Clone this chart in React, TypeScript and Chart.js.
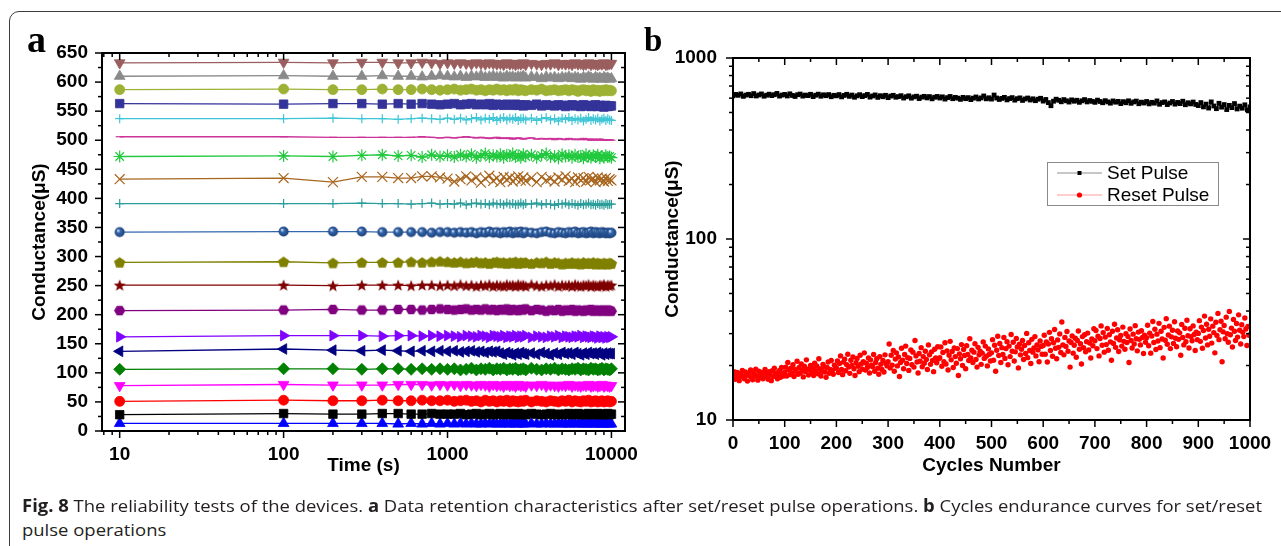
import React, { useEffect, useLayoutEffect, useRef } from "react";
import { Chart, registerables } from "chart.js";

Chart.register(...registerables);

const FONT = "'Liberation Sans', Arial, Helvetica, sans-serif";

// ---------------- Panel a : data retention ----------------
const retentionTimes = [
  10, 100, 200, 300, 400, 500, 600, 700, 800, 900, 1000,
  1100, 1200, 1300, 1400, 1500, 1600, 1700, 1800, 1900, 2000, 2100, 2200, 2300, 2400, 2500, 2600, 2700, 2800, 2900, 3000,
  3250, 3500, 3750, 4000, 4250, 4500, 4750, 5000, 5250, 5500, 5750, 6000, 6250, 6500, 6750, 7000, 7250, 7500, 7750, 8000, 8250, 8500, 8750, 9000, 9250, 9500, 9750, 10000,
];

const g633 = [633, 634, 633, 634, 634, 633, 633, 634, 633, 632, 633,
  632, 633, 632, 631, 633, 632, 631, 633, 632, 631, 632, 630, 633, 631, 632, 630, 632, 631, 633, 630,
  632, 631, 630, 632, 631, 633, 630, 632, 631, 632, 630, 633, 631, 632, 630, 631, 633, 630, 632, 631, 630, 632, 631, 633, 630, 631, 632, 632];
const g610 = [610, 611, 610, 610, 611, 610, 610, 609, 610, 611, 610,
  609, 610, 608, 610, 609, 611, 608, 609, 610, 608, 609, 607, 610, 608, 609, 607, 609, 608, 610, 607,
  609, 608, 606, 609, 607, 608, 606, 608, 607, 609, 606, 608, 607, 605, 608, 606, 609, 607, 605, 608, 606, 607, 605, 608, 606, 607, 605, 606];
const g587 = [587, 588, 587, 587, 588, 587, 587, 588, 587, 586, 587,
  588, 586, 587, 588, 586, 587, 585, 587, 586, 588, 586, 587, 585, 587, 586, 588, 585, 587, 586, 585,
  587, 586, 588, 585, 586, 587, 585, 586, 587, 585, 587, 586, 584, 586, 587, 585, 586, 584, 587, 585, 586, 584, 586, 585, 587, 585, 586, 585];
const g563 = [563, 562, 563, 563, 562, 563, 562, 563, 562, 561, 562,
  563, 561, 562, 563, 561, 562, 561, 563, 560, 562, 561, 560, 562, 561, 560, 562, 560, 561, 559, 561,
  560, 562, 559, 561, 560, 559, 561, 560, 558, 560, 561, 559, 560, 558, 561, 559, 560, 558, 559, 561, 558, 560, 559, 557, 560, 558, 559, 559];
const g537 = [537, 537, 538, 537, 537, 536, 537, 538, 537, 536, 538,
  536, 538, 535, 537, 539, 535, 538, 536, 539, 534, 537, 539, 535, 538, 536, 539, 534, 537, 538, 535,
  538, 534, 537, 539, 535, 537, 533, 538, 536, 539, 534, 537, 535, 538, 533, 536, 539, 534, 537, 535, 538, 533, 536, 538, 534, 537, 535, 534];
const g505 = [506, 506, 505, 505, 505, 505, 505, 506, 505, 504, 505,
  504, 505, 506, 505, 504, 505, 504, 503, 504, 505, 503, 504, 503, 504, 502, 503, 504, 503, 502, 503,
  504, 502, 503, 502, 503, 501, 503, 502, 501, 503, 502, 501, 502, 501, 503, 501, 502, 500, 502, 501, 500, 502, 501, 500, 501, 500, 501, 500];
const g472 = [472, 473, 472, 474, 475, 473, 474, 471, 475, 472, 474,
  471, 475, 472, 476, 470, 474, 477, 471, 474, 472, 476, 470, 475, 473, 477, 471, 474, 470, 476, 472,
  475, 470, 474, 477, 471, 473, 469, 476, 472, 474, 470, 475, 471, 473, 469, 476, 472, 470, 474, 471, 475, 469, 473, 470, 474, 471, 472, 470];
const g432 = [433, 435, 428, 437, 437, 435, 435, 438, 438, 436, 434,
  429, 433, 438, 431, 436, 427, 434, 439, 430, 435, 428, 437, 432, 436, 429, 434, 438, 431, 436, 430,
  435, 428, 437, 431, 434, 429, 436, 432, 438, 430, 434, 428, 436, 431, 435, 429, 437, 432, 434, 428, 436, 431, 434, 429, 435, 430, 433, 431];
const g390 = [391, 391, 391, 392, 391, 391, 390, 391, 392, 390, 391,
  390, 392, 389, 391, 392, 390, 391, 389, 392, 390, 391, 389, 392, 390, 391, 389, 390, 392, 389, 391,
  390, 392, 389, 391, 390, 388, 391, 390, 392, 389, 391, 390, 388, 391, 389, 390, 392, 389, 390, 388, 391, 389, 390, 388, 391, 389, 390, 390];
const g342 = [342, 343, 343, 343, 342, 342, 342, 342, 341, 342, 342,
  341, 342, 341, 342, 340, 342, 341, 343, 341, 342, 340, 342, 341, 343, 340, 342, 341, 343, 340, 342,
  341, 340, 342, 343, 341, 340, 342, 341, 340, 342, 341, 343, 340, 341, 342, 340, 341, 343, 340, 342, 341, 340, 342, 341, 340, 341, 340, 341];
const g290 = [290, 291, 289, 290, 290, 290, 291, 290, 291, 292, 291,
  290, 291, 289, 290, 291, 289, 290, 288, 290, 291, 289, 290, 288, 290, 289, 291, 288, 290, 289, 290,
  288, 290, 289, 291, 288, 290, 289, 287, 289, 288, 290, 288, 289, 287, 290, 288, 289, 288, 290, 287, 289, 288, 287, 289, 288, 287, 289, 288];
const g251 = [251, 251, 250, 251, 251, 251, 250, 251, 251, 250, 251,
  250, 252, 250, 251, 249, 251, 250, 252, 249, 251, 250, 249, 252, 250, 251, 249, 252, 250, 251, 249,
  252, 250, 249, 251, 250, 252, 249, 251, 250, 251, 249, 252, 250, 249, 251, 250, 252, 249, 251, 250, 249, 251, 250, 252, 249, 251, 250, 251];
const g207 = [207, 208, 209, 208, 208, 209, 209, 208, 209, 210, 209,
  208, 209, 210, 208, 209, 208, 210, 208, 209, 207, 209, 208, 210, 207, 209, 208, 207, 209, 208, 210,
  207, 209, 208, 206, 208, 207, 209, 206, 208, 207, 209, 206, 208, 207, 206, 208, 207, 209, 206, 208, 207, 206, 208, 207, 206, 208, 207, 206];
const g162 = [162, 164, 164, 164, 163, 164, 164, 163, 164, 163, 164,
  163, 162, 164, 163, 162, 164, 163, 161, 164, 163, 162, 164, 161, 163, 162, 164, 161, 163, 162, 164,
  161, 163, 162, 161, 163, 162, 164, 161, 163, 162, 161, 163, 162, 164, 161, 163, 162, 161, 163, 162, 160, 163, 161, 162, 160, 162, 161, 162];
const g137 = [137, 141, 139, 138, 139, 138, 137, 138, 137, 138, 137,
  138, 136, 137, 138, 136, 137, 135, 137, 136, 137, 134, 132, 135, 133, 131, 134, 132, 135, 133, 132,
  134, 132, 135, 133, 131, 134, 132, 135, 133, 134, 132, 135, 133, 131, 134, 132, 135, 133, 134, 132, 135, 133, 131, 134, 132, 134, 133, 133];
const g106 = [106, 107, 107, 106, 107, 107, 106, 107, 106, 107, 106,
  107, 105, 106, 108, 105, 107, 106, 108, 105, 107, 106, 108, 105, 107, 106, 108, 105, 106, 107, 105,
  108, 106, 105, 107, 106, 108, 105, 107, 106, 105, 107, 106, 108, 105, 107, 106, 105, 108, 106, 107, 105, 106, 108, 105, 107, 106, 105, 107];
const g78 = [78, 80, 79, 79, 79, 80, 80, 80, 79, 80, 79,
  80, 78, 80, 79, 78, 80, 79, 77, 80, 78, 79, 77, 80, 78, 79, 77, 80, 78, 79, 77,
  79, 78, 80, 77, 79, 78, 77, 79, 78, 80, 77, 79, 78, 77, 79, 78, 80, 77, 78, 79, 77, 78, 80, 77, 79, 78, 77, 78];
const g51 = [51, 53, 52, 52, 53, 52, 52, 53, 52, 52, 53,
  51, 52, 53, 51, 52, 50, 53, 51, 52, 50, 52, 51, 53, 50, 52, 51, 50, 52, 51, 53,
  50, 52, 51, 50, 52, 51, 50, 52, 51, 53, 50, 52, 51, 50, 52, 51, 53, 50, 51, 52, 50, 51, 52, 50, 51, 52, 50, 51];
const g28 = [28, 30, 29, 29, 30, 30, 29, 29, 30, 29, 29,
  29, 30, 28, 29, 30, 28, 29, 30, 28, 29, 30, 28, 29, 30, 28, 29, 30, 28, 29, 28,
  30, 29, 28, 29, 30, 28, 29, 28, 29, 30, 28, 29, 30, 28, 29, 28, 30, 29, 28, 29, 30, 28, 29, 28, 29, 30, 28, 29];
const g13 = [13, 13, 13, 13, 13, 12, 13, 12, 13, 12, 13,
  12, 13, 12, 13, 12, 12, 13, 12, 13, 12, 12, 13, 12, 12, 13, 12, 12, 13, 12, 12,
  13, 12, 12, 13, 12, 12, 13, 12, 12, 12, 13, 12, 12, 13, 12, 12, 12, 13, 12, 12, 13, 12, 12, 12, 13, 12, 12, 12];

const retentionXTicks = [10, 100, 1000, 10000];
const retentionXMinor = [8, 9, 20, 30, 40, 50, 60, 70, 80, 90, 200, 300, 400, 500, 600, 700, 800, 900, 2000, 3000, 4000, 5000, 6000, 7000, 8000, 9000];
const retentionYTicks = [0, 50, 100, 150, 200, 250, 300, 350, 400, 450, 500, 550, 600, 650];
const retentionYMinor = [25, 75, 125, 175, 225, 275, 325, 375, 425, 475, 525, 575, 625];

// ---------------- Panel b : cycle endurance ----------------
const steps = (start: number, step: number, count: number) => Array.from({ length: count }, (_, i) => start + i * step);
const setCycles = steps(0, 5, 201);
const resetCycles = steps(0, 2, 500);

const setPulse = [
  618, 629, 622, 633, 614, 624, 630, 619, 636, 617, 625, 633, 615, 623, 631, 620, 627, 637, 616, 624,
  629, 617, 634, 621, 613, 627, 632, 616, 624, 620, 630, 612, 623, 631, 615, 626, 619, 628, 611, 622,
  618, 628, 610, 621, 630, 614, 624, 607, 618, 627, 612, 620, 629, 608, 617, 625, 606, 619, 611, 622,
  604, 616, 622, 607, 612, 619, 601, 611, 618, 600, 610, 615, 597, 608, 614, 602, 612, 595, 607, 613,
  601, 610, 593, 604, 613, 596, 606, 600, 591, 606, 596, 604, 589, 600, 609, 594, 602, 617, 595, 603,
  593, 624, 601, 590, 598, 606, 587, 597, 604, 585, 596, 602, 583, 594, 601, 586, 595, 581, 592, 599,
  578, 590, 567, 545, 577, 592, 584, 573, 589, 580, 571, 587, 577, 584, 569, 580, 589, 572, 582, 576,
  569, 585, 575, 566, 581, 572, 563, 579, 570, 576, 560, 574, 566, 580, 562, 572, 578, 559, 570, 564,
  575, 558, 569, 563, 579, 555, 567, 572, 553, 564, 575, 556, 568, 560, 577, 552, 566, 558, 571, 554,
  546, 567, 537, 556, 529, 572, 543, 525, 562, 535, 553, 519, 547, 532, 560, 523, 542, 528, 551, 517, 537,
];

const resetPulse = [
  17.2, 18.5, 16.8, 17.9, 18.3, 17.0, 16.5, 18.1, 17.6, 18.8, 17.3, 16.9, 18.4, 17.7, 16.4, 18.0, 17.5, 18.9, 17.1, 16.7, 18.2, 17.8, 19.1, 17.4, 16.6,
  18.6, 17.9, 17.2, 18.3, 16.9, 17.6, 19.0, 18.1, 17.3, 16.8, 18.5, 17.7, 16.5, 18.7, 17.4, 19.3, 17.9, 18.2, 16.9, 17.6, 18.8, 17.2, 19.5, 18.0, 17.5,
  18.4, 19.6, 17.5, 20.8, 18.9, 17.8, 19.3, 18.1, 20.2, 17.4, 19.0, 18.6, 21.1, 17.9, 19.5, 18.2, 20.4, 18.8, 17.3, 19.8, 18.5, 21.5, 19.1, 17.7, 18.9,
  20.0, 18.3, 19.4, 17.6, 20.6, 18.7, 19.9, 18.0, 21.8, 19.2, 17.5, 18.6, 20.3, 19.7, 18.4, 17.2, 19.5, 20.9, 18.1, 19.0, 21.3, 18.8, 17.9, 20.1, 19.3,
  19.4, 21.2, 18.3, 20.5, 22.6, 19.0, 17.8, 20.9, 21.7, 18.7, 20.2, 23.1, 19.6, 18.1, 21.4, 20.0, 22.3, 19.2, 17.6, 20.7, 21.9, 19.8, 18.5, 22.8, 20.4,
  19.1, 21.0, 23.5, 18.9, 20.6, 19.5, 22.0, 18.2, 21.5, 20.1, 19.7, 23.0, 18.6, 20.8, 21.8, 19.3, 17.9, 22.4, 20.3, 19.0, 21.3, 18.4, 22.9, 20.5, 19.9,
  21.0, 26.3, 19.4, 22.8, 20.1, 24.2, 18.6, 21.7, 23.5, 19.9, 22.3, 17.4, 20.8, 24.9, 21.4, 19.2, 23.0, 25.6, 20.5, 22.1, 18.8, 21.9, 24.4, 20.2, 23.7,
  19.6, 27.5, 22.6, 20.9, 18.2, 23.3, 21.1, 25.1, 19.7, 22.4, 20.6, 24.0, 21.6, 19.0, 26.0, 22.9, 20.3, 23.8, 21.3, 18.5, 24.6, 22.0, 20.7, 25.4, 21.8,
  22.1, 25.3, 19.8, 23.6, 21.0, 26.7, 20.4, 24.1, 18.9, 22.8, 27.2, 21.5, 23.9, 19.5, 25.0, 22.4, 20.6, 24.8, 17.6, 23.2, 21.8, 26.1, 20.0, 24.5, 22.7,
  19.2, 25.7, 23.0, 21.3, 28.1, 22.0, 24.3, 20.8, 23.7, 26.4, 21.6, 19.6, 25.2, 22.9, 24.0, 20.3, 23.4, 27.0, 21.9, 25.6, 22.5, 19.9, 24.7, 23.1, 21.2,
  23.5, 27.8, 21.4, 25.9, 18.6, 24.3, 29.0, 22.7, 26.5, 20.8, 25.1, 23.0, 28.6, 21.9, 24.8, 27.1, 20.2, 25.6, 22.4, 29.7, 24.0, 26.9, 21.2, 23.8, 28.2,
  25.3, 19.4, 26.2, 22.9, 24.6, 27.5, 21.6, 25.8, 23.3, 30.1, 22.1, 26.7, 24.2, 20.5, 27.9, 23.7, 25.0, 28.9, 22.6, 26.0, 24.4, 21.0, 27.3, 25.5, 23.1,
  25.8, 29.4, 23.1, 27.0, 20.9, 26.3, 30.5, 24.2, 28.1, 22.5, 26.7, 31.6, 24.9, 21.8, 27.7, 25.2, 29.9, 23.6, 34.8, 26.0, 22.9, 28.6, 25.5, 30.8, 24.0,
  27.3, 19.6, 26.8, 29.1, 23.4, 25.9, 28.3, 22.2, 27.5, 31.0, 24.6, 26.4, 20.4, 28.9, 25.1, 29.6, 23.8, 27.1, 30.2, 24.4, 26.6, 22.0, 28.0, 25.7, 31.9,
  27.4, 31.2, 24.8, 29.0, 22.6, 28.2, 33.1, 25.9, 30.4, 23.7, 28.7, 26.1, 32.0, 24.3, 29.6, 27.0, 21.4, 30.9, 26.5, 33.8, 25.2, 28.4, 31.5, 23.9, 27.7,
  29.3, 25.6, 32.6, 27.2, 24.6, 30.0, 26.8, 28.9, 20.8, 31.8, 27.5, 25.0, 29.8, 26.3, 33.2, 28.1, 24.1, 30.6, 27.9, 26.0, 31.1, 28.6, 23.3, 29.4, 26.9,
  28.5, 33.4, 25.7, 30.2, 23.4, 29.1, 35.0, 26.8, 31.7, 24.5, 29.8, 27.3, 34.2, 25.1, 30.9, 28.0, 22.0, 32.5, 27.6, 36.3, 26.2, 29.5, 33.0, 24.8, 28.8,
  31.3, 26.5, 34.9, 28.3, 25.4, 31.0, 27.9, 30.3, 22.8, 33.7, 28.6, 26.0, 32.1, 27.1, 35.6, 29.2, 25.0, 31.9, 28.9, 27.4, 33.1, 29.7, 24.2, 30.6, 27.8,
  30.1, 35.4, 27.2, 32.6, 24.9, 31.2, 37.5, 28.4, 33.8, 26.0, 31.7, 29.0, 36.2, 26.6, 33.0, 30.4, 23.5, 34.7, 29.3, 38.8, 27.8, 31.5, 35.1, 21.0, 30.7,
  33.3, 28.1, 37.0, 30.0, 26.9, 39.8, 29.6, 32.2, 25.3, 35.9, 30.9, 27.5, 34.1, 28.7, 38.1, 31.3, 26.3, 33.6, 30.5, 28.9, 36.6, 31.8, 25.8, 32.9, 29.4,
];

const enduranceXTicks = [0, 100, 200, 300, 400, 500, 600, 700, 800, 900, 1000];
const enduranceXMinor = [50, 150, 250, 350, 450, 550, 650, 750, 850, 950];
const enduranceYTicks = [10, 100, 1000];
const enduranceYMinor = [20, 30, 40, 50, 60, 70, 80, 90, 200, 300, 400, 500, 600, 700, 800, 900];
const legendLabels = ["Set Pulse", "Reset Pulse"];

// series styling (kept apart from the values)
const retentionSeries = [
  { values: g633, color: "#9a5e5e", marker: "triangle", rot: 180, r: 6.2 },
  { values: g610, color: "#8a8a8a", marker: "triangle", rot: 0, r: 6.2 },
  { values: g587, color: "#9db234", marker: "circle", rot: 0, r: 5 },
  { values: g563, color: "#333399", marker: "rect", rot: 0, r: 6 },
  { values: g537, color: "#3fc6d6", marker: "cross", rot: 0, r: 4.5, open: true },
  { values: g505, color: "#cc3399", marker: "line", rot: 0, r: 4, open: true },
  { values: g472, color: "#22c93e", marker: "star", rot: 0, r: 6, open: true },
  { values: g432, color: "#a8661f", marker: "crossRot", rot: 0, r: 7, open: true },
  { values: g390, color: "#2b9e9b", marker: "cross", rot: 0, r: 4.5, open: true },
  { values: g342, color: "#3468ae", marker: "sphere", rot: 0, r: 5 },
  { values: g290, color: "#808000", marker: "pentagon", rot: 0, r: 5.9 },
  { values: g251, color: "#800000", marker: "star5", rot: 0, r: 6.3 },
  { values: g207, color: "#800080", marker: "hexagon", rot: 0, r: 5.6 },
  { values: g162, color: "#8000ff", marker: "triangle", rot: 90, r: 6.2 },
  { values: g137, color: "#000080", marker: "triangle", rot: 270, r: 6.2 },
  { values: g106, color: "#008000", marker: "rectRot", rot: 0, r: 6 },
  { values: g78, color: "#ff00ff", marker: "triangle", rot: 180, r: 6.2 },
  { values: g51, color: "#ff0000", marker: "circle", rot: 0, r: 5 },
  { values: g28, color: "#000000", marker: "rect", rot: 0, r: 6 },
  { values: g13, color: "#0000ff", marker: "triangle", rot: 0, r: 6.2 },
];

function makeMarker(kind: string, color: string, r: number): HTMLCanvasElement {
  const size = Math.ceil(2 * r + 3);
  const c = document.createElement("canvas");
  c.width = size;
  c.height = size;
  const g = c.getContext("2d") as CanvasRenderingContext2D;
  const cx = size / 2;
  const cy = size / 2;
  g.fillStyle = color;
  g.beginPath();
  if (kind === "pentagon") {
    for (let k = 0; k < 5; k++) {
      const a = -Math.PI / 2 + (k * 2 * Math.PI) / 5;
      const px = cx + r * Math.cos(a);
      const py = cy + 0.6 + r * Math.sin(a);
      k === 0 ? g.moveTo(px, py) : g.lineTo(px, py);
    }
  } else if (kind === "star5") {
    for (let k = 0; k < 10; k++) {
      const a = -Math.PI / 2 + (k * Math.PI) / 5;
      const rr = k % 2 === 0 ? r : r * 0.42;
      const px = cx + rr * Math.cos(a);
      const py = cy + 0.6 + rr * Math.sin(a);
      k === 0 ? g.moveTo(px, py) : g.lineTo(px, py);
    }
  } else if (kind === "hexagon") {
    for (let k = 0; k < 6; k++) {
      const a = (k * Math.PI) / 3;
      const px = cx + r * Math.cos(a);
      const py = cy + r * Math.sin(a);
      k === 0 ? g.moveTo(px, py) : g.lineTo(px, py);
    }
  } else {
    const grad = g.createRadialGradient(cx - r * 0.35, cy - r * 0.35, 0.3, cx, cy, r);
    grad.addColorStop(0, "#dfeaf8");
    grad.addColorStop(0.35, color);
    grad.addColorStop(1, "#1c3f78");
    g.fillStyle = grad;
    g.arc(cx, cy, r, 0, Math.PI * 2);
  }
  g.closePath();
  g.fill();
  return c;
}

const frameTicks = {
  id: "frameTicks",
  afterDatasetsDraw(chart: any, _args: any, opts: any) {
    const { ctx, chartArea } = chart;
    const { left, right, top, bottom } = chartArea;
    const xs = chart.scales.x;
    const ys = chart.scales.y;
    ctx.save();
    ctx.strokeStyle = "#000";
    const seg = (x1: number, y1: number, x2: number, y2: number) => {
      ctx.beginPath();
      ctx.moveTo(x1, y1);
      ctx.lineTo(x2, y2);
      ctx.stroke();
    };
    ctx.lineWidth = 1.5;
    const doX = (vals: number[], len: number) =>
      vals.forEach((v) => {
        const p = xs.getPixelForValue(v);
        if (p < left - 0.5 || p > right + 0.5) return;
        seg(p, bottom, p, bottom + len);
        seg(p, top, p, top + len);
      });
    const doY = (vals: number[], len: number) =>
      vals.forEach((v) => {
        const p = ys.getPixelForValue(v);
        if (p < top - 0.5 || p > bottom + 0.5) return;
        seg(left - len, p, left, p);
        seg(right - len, p, right, p);
      });
    doX(opts.xMajor, 7);
    doX(opts.xMinor, 4);
    doY(opts.yMajor, 7);
    doY(opts.yMinor, 4);
    ctx.lineWidth = 2;
    ctx.strokeRect(left, top, right - left, bottom - top);
    ctx.restore();
  },
};

const legendBox = {
  id: "legendBox",
  afterDraw(chart: any) {
    const { ctx, chartArea } = chart;
    const bx = chartArea.right - 203;
    const by = chartArea.top + 104;
    ctx.save();
    ctx.strokeStyle = "#8a8a8a";
    ctx.lineWidth = 1;
    ctx.strokeRect(bx + 0.5, by + 0.5, 171, 43);
    const rows = [
      { y: by + 11, line: "#8f8f8f", fill: "#000", square: true },
      { y: by + 33, line: "#ff9a9a", fill: "#ff0000", square: false },
    ];
    rows.forEach((row, i) => {
      ctx.strokeStyle = row.line;
      ctx.lineWidth = 1;
      ctx.beginPath();
      ctx.moveTo(bx + 10, row.y);
      ctx.lineTo(bx + 55, row.y);
      ctx.stroke();
      ctx.fillStyle = row.fill;
      ctx.beginPath();
      if (row.square) ctx.rect(bx + 30.5, row.y - 2, 4, 4);
      else ctx.arc(bx + 32.5, row.y, 2.6, 0, Math.PI * 2);
      ctx.fill();
      ctx.fillStyle = "#000";
      ctx.font = `19px ${FONT}`;
      ctx.textAlign = "left";
      ctx.textBaseline = "middle";
      ctx.fillText(legendLabels[i], bx + 60, row.y + 0.5);
    });
    ctx.restore();
  },
};

const tickFont = { family: FONT, size: 19, weight: "bold" as const };
const titleFont = { family: FONT, size: 19, weight: "bold" as const };

export default function App() {
  const refA = useRef<HTMLCanvasElement>(null);
  const refB = useRef<HTMLCanvasElement>(null);
  const cap1 = useRef<HTMLDivElement>(null);
  const cap2 = useRef<HTMLDivElement>(null);

  useLayoutEffect(() => {
    const a = cap1.current;
    const b = cap2.current;
    if (!a || !b) return;
    a.style.transform = "none";
    const w = a.getBoundingClientRect().width;
    const k = 1240 / w;
    a.style.transform = `scaleX(${k})`;
    b.style.transform = `scaleX(${k})`;
  }, []);

  useEffect(() => {
    if (!refA.current || !refB.current) return;

    const datasetsA = retentionSeries.map((s) => {
      const custom = ["pentagon", "star5", "hexagon", "sphere"].includes(s.marker);
      const style: any = custom ? makeMarker(s.marker, s.color, s.r) : s.marker;
      return {
        data: retentionTimes.map((t, i) => ({ x: t, y: s.values[i] })),
        borderColor: s.color,
        backgroundColor: s.color,
        borderWidth: 1.3,
        pointStyle: style,
        pointRotation: s.rot,
        pointRadius: s.r,
        pointHoverRadius: s.r,
        pointBackgroundColor: s.open ? "rgba(0,0,0,0)" : s.color,
        pointBorderColor: s.color,
        pointBorderWidth: s.open ? 1.2 : 0.8,
        tension: 0,
      };
    });

    const chartA = new Chart(refA.current, {
      type: "line",
      data: { datasets: datasetsA as any },
      options: {
        responsive: false,
        animation: false,
        devicePixelRatio: 1,
        events: [],
        layout: { padding: { left: 0, top: 53, right: 15, bottom: 0 } },
        plugins: {
          legend: { display: false },
          tooltip: { enabled: false },
          frameTicks: { xMajor: retentionXTicks, xMinor: retentionXMinor, yMajor: retentionYTicks, yMinor: retentionYMinor },
        } as any,
        scales: {
          x: {
            type: "logarithmic",
            min: 7.8,
            max: 12100,
            afterBuildTicks: (s: any) => {
              s.ticks = retentionXTicks.map((v) => ({ value: v }));
            },
            afterFit: (s: any) => {
              s.height = 69;
              s.paddingLeft = 0;
              s.paddingRight = 0;
            },
            grid: { display: false, drawTicks: false },
            border: { display: false },
            ticks: { font: tickFont, color: "#000", padding: 12, autoSkip: false, maxRotation: 0, callback: (v: any) => String(v) },
            title: { display: true, text: "Time (s)", font: titleFont, color: "#000", padding: { top: 0, bottom: 23 } },
          },
          y: {
            type: "linear",
            min: 0,
            max: 650,
            afterBuildTicks: (s: any) => {
              s.ticks = retentionYTicks.map((v) => ({ value: v }));
            },
            afterFit: (s: any) => {
              s.width = 102;
              s.paddingTop = 0;
              s.paddingBottom = 0;
            },
            grid: { display: false, drawTicks: false },
            border: { display: false },
            ticks: { font: tickFont, color: "#000", padding: 14, autoSkip: false, callback: (v: any) => String(v) },
            title: { display: true, text: "Conductance(μS)", font: titleFont, color: "#000", padding: { top: 28, bottom: 0 } },
          },
        },
      } as any,
      plugins: [frameTicks as any],
    });

    const chartB = new Chart(refB.current, {
      type: "line",
      data: {
        datasets: [
          {
            data: setCycles.map((c, i) => ({ x: c, y: setPulse[i] })),
            borderColor: "#000",
            borderWidth: 1.2,
            backgroundColor: "#000",
            pointStyle: "rect",
            pointRadius: 3.4,
            pointBackgroundColor: "#000",
            pointBorderWidth: 0,
            showLine: true,
            tension: 0,
          },
          {
            data: resetCycles.map((c, i) => ({ x: c, y: resetPulse[i] })),
            borderColor: "#ff0000",
            backgroundColor: "#ff0000",
            pointStyle: "circle",
            pointRadius: 2.7,
            pointBackgroundColor: "#ff0000",
            pointBorderWidth: 0,
            showLine: false,
          },
        ] as any,
      },
      options: {
        responsive: false,
        animation: false,
        devicePixelRatio: 1,
        events: [],
        layout: { padding: { left: 0, top: 58, right: 31, bottom: 0 } },
        plugins: {
          legend: { display: false },
          tooltip: { enabled: false },
          frameTicks: { xMajor: enduranceXTicks, xMinor: enduranceXMinor, yMajor: enduranceYTicks, yMinor: enduranceYMinor },
        } as any,
        scales: {
          x: {
            type: "linear",
            min: 0,
            max: 1000,
            afterBuildTicks: (s: any) => {
              s.ticks = enduranceXTicks.map((v) => ({ value: v }));
            },
            afterFit: (s: any) => {
              s.height = 80;
              s.paddingLeft = 0;
              s.paddingRight = 0;
            },
            grid: { display: false, drawTicks: false },
            border: { display: false },
            ticks: { font: tickFont, color: "#000", padding: 12, autoSkip: false, maxRotation: 0, callback: (v: any) => String(v) },
            title: { display: true, text: "Cycles Number", font: titleFont, color: "#000", padding: { top: 0, bottom: 23 } },
          },
          y: {
            type: "logarithmic",
            min: 10,
            max: 1000,
            afterBuildTicks: (s: any) => {
              s.ticks = enduranceYTicks.map((v) => ({ value: v }));
            },
            afterFit: (s: any) => {
              s.width = 93;
              s.paddingTop = 0;
              s.paddingBottom = 0;
            },
            grid: { display: false, drawTicks: false },
            border: { display: false },
            ticks: { font: tickFont, color: "#000", padding: 16, autoSkip: false, callback: (v: any) => String(v) },
            title: { display: true, text: "Conductance(μS)", font: titleFont, color: "#000", padding: { top: 21, bottom: 0 } },
          },
        },
      } as any,
      plugins: [frameTicks as any, legendBox as any],
    });

    return () => {
      chartA.destroy();
      chartB.destroy();
    };
  }, []);

  const capStyle: React.CSSProperties = {
    position: "absolute",
    left: 22,
    whiteSpace: "nowrap",
    fontFamily: "'Open Sans', 'Noto Sans', sans-serif",
    fontSize: 17,
    lineHeight: "24px",
    color: "#231f20",
    transformOrigin: "0 0",
  };

  return (
    <div style={{ position: "absolute", left: 0, top: 0, width: 1281, height: 546, overflow: "hidden", background: "#fff" }}>
      <div
        style={{
          position: "absolute",
          left: 9,
          top: 11,
          width: 1400,
          height: 700,
          border: "1.5px solid #3c3c3c",
          borderRadius: 10,
          boxSizing: "border-box",
        }}
      />
      <canvas ref={refA} width={640} height={500} style={{ position: "absolute", left: 0, top: 0, width: 640, height: 500 }} />
      <canvas ref={refB} width={641} height={500} style={{ position: "absolute", left: 640, top: 0, width: 641, height: 500 }} />
      <div style={{ position: "absolute", left: 27, top: 20, font: "bold 38px 'Liberation Serif', 'DejaVu Serif', serif", lineHeight: "38px", color: "#000" }}>a</div>
      <div style={{ position: "absolute", left: 644, top: 24, font: "bold 33px 'Liberation Serif', 'DejaVu Serif', serif", lineHeight: "33px", color: "#000" }}>b</div>
      <div ref={cap1} style={{ ...capStyle, top: 494 }}>
        <b>Fig. 8</b> The reliability tests of the devices. <b>a</b> Data retention characteristics after set/reset pulse operations. <b>b</b> Cycles endurance curves for set/reset
      </div>
      <div ref={cap2} style={{ ...capStyle, top: 518 }}>pulse operations</div>
    </div>
  );
}
